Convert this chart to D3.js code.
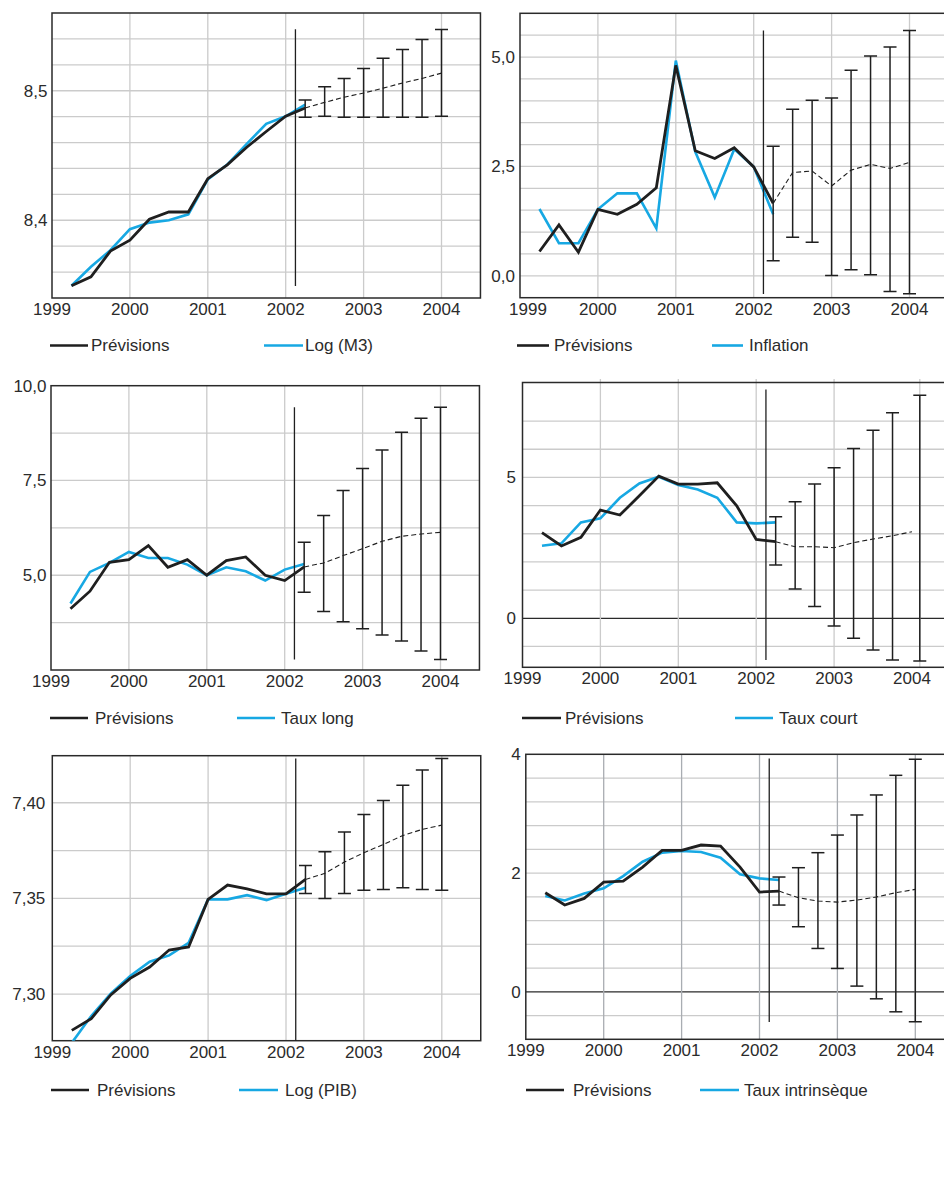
<!DOCTYPE html>
<html lang="fr">
<head>
<meta charset="utf-8">
<script src="https://cdn.jsdelivr.net/npm/d3@7"></script>
<style>
  html, body { margin: 0; padding: 0; background: #fff; }
  svg { display: block; }
  text { font-family: "Liberation Sans", Arial, Helvetica, sans-serif; fill: #2b2b2b; }
</style>
</head>
<body>
<svg id="chart" width="944" height="1201"></svg>
<script>
// ---- Periods ----------------------------------------------------------
const xTickYears = [1999, 2000, 2001, 2002, 2003, 2004];
const xTickLabels = ["1999", "2000", "2001", "2002", "2003", "2004"];
const quarters = [1999.25, 1999.5, 1999.75, 2000, 2000.25, 2000.5, 2000.75,
                  2001, 2001.25, 2001.5, 2001.75, 2002, 2002.25];
const forecastQuarters = [2002.25, 2002.5, 2002.75, 2003, 2003.25, 2003.5, 2003.75, 2004];
const forecastQuartersTauxCourt = [2002.25, 2002.5, 2002.75, 2003, 2003.25, 2003.5, 2003.75, 2004.1];
const splitDate = 2002.125;

// ---- Log (M3) ---------------------------------------------------------
const m3Fitted   = [8.3495, 8.3564, 8.3762, 8.3846, 8.4008, 8.4064, 8.4064, 8.4321, 8.4428, 8.4564, 8.4685, 8.4803, 8.4867];
const m3Actual   = [8.3495, 8.3641, 8.3769, 8.3931, 8.3982, 8.4000, 8.4046, 8.4315, 8.4430, 8.4590, 8.4744, 8.4803, 8.4892];
const m3Forecast = [8.4867, 8.4910, 8.4950, 8.4982, 8.5020, 8.5060, 8.5095, 8.5136];
const m3Upper    = [8.4928, 8.5031, 8.5095, 8.5172, 8.5251, 8.5318, 8.5395, 8.5472];
const m3Lower    = [8.4795, 8.4803, 8.4795, 8.4795, 8.4795, 8.4795, 8.4795, 8.4803];
const m3Split    = [8.3492, 8.5474];
const m3Ticks    = [8.4, 8.5];

// ---- Inflation --------------------------------------------------------
const inflFitted   = [0.555, 1.163, 0.540, 1.520, 1.406, 1.634, 2.014, 4.810, 2.857, 2.682, 2.926, 2.490, 1.657];
const inflActual   = [1.527, 0.745, 0.745, 1.520, 1.885, 1.885, 1.087, 4.920, 2.834, 1.793, 2.895, 2.490, 1.406];
const inflForecast = [1.657, 2.363, 2.394, 2.052, 2.416, 2.546, 2.454, 2.591];
const inflUpper    = [2.963, 3.807, 4.012, 4.065, 4.696, 5.023, 5.228, 5.608];
const inflLower    = [0.342, 0.881, 0.767, 0.008, 0.137, 0.023, -0.357, -0.410];
const inflSplit    = [-0.418, 5.608];
const inflTicks    = [0, 2.5, 5];

// ---- Taux long --------------------------------------------------------
const longFitted   = [4.114, 4.579, 5.342, 5.412, 5.781, 5.210, 5.412, 5.000, 5.386, 5.482, 5.000, 4.860, 5.219];
const longActual   = [4.254, 5.088, 5.325, 5.614, 5.456, 5.456, 5.281, 5.000, 5.210, 5.105, 4.860, 5.149, 5.298];
const longForecast = [5.219, 5.325, 5.518, 5.702, 5.895, 6.026, 6.088, 6.132];
const longUpper    = [5.868, 6.579, 7.237, 7.816, 8.307, 8.772, 9.140, 9.430];
const longLower    = [4.553, 4.044, 3.772, 3.588, 3.421, 3.263, 3.000, 2.780];
const longSplit    = [2.78, 9.43];
const longTicks    = [5, 7.5, 10];

// ---- Taux court -------------------------------------------------------
const shortFitted   = [3.038, 2.565, 2.872, 3.842, 3.664, 4.350, 5.047, 4.764, 4.764, 4.811, 3.995, 2.801, 2.719];
const shortActual   = [2.577, 2.660, 3.404, 3.546, 4.279, 4.787, 5.024, 4.728, 4.574, 4.279, 3.404, 3.369, 3.404];
const shortForecast = [2.719, 2.541, 2.541, 2.506, 2.683, 2.813, 2.931, 3.073];
const shortUpper    = [3.605, 4.137, 4.764, 5.343, 6.028, 6.678, 7.293, 7.920];
const shortLower    = [1.891, 1.040, 0.414, -0.272, -0.709, -1.123, -1.478, -1.513];
const shortSplit    = [-1.478, 8.12];
const shortTicks    = [0, 5];

// ---- Log (PIB) --------------------------------------------------------
const pibFitted   = [7.2810, 7.2871, 7.2995, 7.3082, 7.3141, 7.3230, 7.3246, 7.3495, 7.3570, 7.3550, 7.3524, 7.3524, 7.3599];
const pibActual   = [7.2745, 7.2885, 7.3002, 7.3094, 7.3169, 7.3202, 7.3268, 7.3495, 7.3495, 7.3517, 7.3491, 7.3524, 7.3556];
const pibForecast = [7.3599, 7.3631, 7.3690, 7.3739, 7.3782, 7.3829, 7.3861, 7.3883];
const pibUpper    = [7.3672, 7.3744, 7.3847, 7.3939, 7.4012, 7.4091, 7.4171, 7.4231];
const pibLower    = [7.3526, 7.3500, 7.3526, 7.3542, 7.3547, 7.3556, 7.3547, 7.3542];
const pibSplit    = [7.2756, 7.4231];
const pibTicks    = [7.30, 7.35, 7.40];

// ---- Taux intrinsèque -------------------------------------------------
const natFitted   = [1.669, 1.461, 1.573, 1.848, 1.865, 2.101, 2.382, 2.382, 2.472, 2.455, 2.101, 1.680, 1.697];
const natActual   = [1.612, 1.539, 1.657, 1.742, 1.949, 2.191, 2.343, 2.371, 2.354, 2.258, 1.978, 1.910, 1.882];
const natForecast = [1.697, 1.584, 1.528, 1.511, 1.545, 1.596, 1.669, 1.725];
const natUpper    = [1.933, 2.090, 2.343, 2.640, 2.978, 3.315, 3.646, 3.916];
const natLower    = [1.461, 1.096, 0.730, 0.393, 0.096, -0.118, -0.337, -0.506];
const natSplit    = [-0.51, 3.93];
const natTicks    = [0, 2, 4];

const legendFitted = "Prévisions";

// ---- Styles -----------------------------------------------------------
const BLACK = "#1f1f1f";
const BLUE = "#17a8e3";
const GRID = "#cbcbcb";
const FRAME = "#2a2a2a";

const fr = d3.formatLocale({ decimal: ",", thousands: " ", grouping: [3], currency: ["", " €"] });

// Panel layout: pixel box, value domain, grid step and legend placement
const panels = [
  { left: 52, top: 13, bottom: 298, yDomain: [8.34, 8.56], gridStep: 0.02, fmt: ".1f",
    ticks: m3Ticks, fitted: m3Fitted, actual: m3Actual, forecast: m3Forecast,
    upper: m3Upper, lower: m3Lower, split: m3Split, fq: forecastQuarters,
    label: "Log (M3)", zeroDark: false, labelGap: 4.5,
    legend: { y: 345.5, b1: 50, b2: 88, t1: 91, c1: 264, c2: 303, t2: 305 } },
  { left: 520, top: 13.3, bottom: 297.7, yDomain: [-0.5, 6.0], gridStep: 0.5, fmt: ".1f",
    ticks: inflTicks, fitted: inflFitted, actual: inflActual, forecast: inflForecast,
    upper: inflUpper, lower: inflLower, split: inflSplit, fq: forecastQuarters,
    label: "Inflation", zeroDark: false, labelGap: 5, firstLabelDx: 8,
    legend: { y: 345.5, b1: 517, b2: 549, t1: 554, c1: 712, c2: 743, t2: 749 } },
  { left: 51, top: 385.7, bottom: 670, yDomain: [2.5, 10], gridStep: 1.25, fmt: ".1f",
    ticks: longTicks, fitted: longFitted, actual: longActual, forecast: longForecast,
    upper: longUpper, lower: longLower, split: longSplit, fq: forecastQuarters,
    label: "Taux long", zeroDark: false, labelGap: 4.5,
    legend: { y: 718, b1: 50, b2: 88, t1: 95, c1: 237, c2: 275, t2: 281 } },
  { left: 522.5, top: 382.5, bottom: 667.3, yDomain: [-1.74, 8.37], gridStep: 1, fmt: "d",
    ticks: shortTicks, fitted: shortFitted, actual: shortActual, forecast: shortForecast,
    upper: shortUpper, lower: shortLower, split: shortSplit, fq: forecastQuartersTauxCourt,
    label: "Taux court", zeroDark: true, labelGap: 6.5, gridYears: [2000, 2001, 2002, 2003, 2004.1],
    gridOvershoot: 3.5, gridMax: 7,
    legend: { y: 718, b1: 522, b2: 561, t1: 565, c1: 735, c2: 773, t2: 779 } },
  { left: 52.3, top: 755.7, bottom: 1040.7, yDomain: [7.2756, 7.4246], gridStep: 0.025, fmt: ".2f",
    ticks: pibTicks, fitted: pibFitted, actual: pibActual, forecast: pibForecast,
    upper: pibUpper, lower: pibLower, split: pibSplit, fq: forecastQuarters,
    label: "Log (PIB)", zeroDark: false, labelGap: 7,
    legend: { y: 1090, b1: 51, b2: 89, t1: 97, c1: 239, c2: 278, t2: 285 } },
  { left: 525.8, top: 754.3, bottom: 1039.3, yDomain: [-0.8, 4.0], gridStep: 0.4, fmt: "d",
    ticks: natTicks, fitted: natFitted, actual: natActual, forecast: natForecast,
    upper: natUpper, lower: natLower, split: natSplit, fq: forecastQuarters,
    label: "Taux intrinsèque", zeroDark: true, labelGap: 5, vGrid: "#a9adb2",
    legend: { y: 1090, b1: 526, b2: 564, t1: 573, c1: 700, c2: 739, t2: 744 } }
];

const YEAR_PX = 77.9;
const svg = d3.select("#chart");
svg.append("rect").attr("width", 944).attr("height", 1201).attr("fill", "#fff");

panels.forEach((p, i) => {
  const right = p.left + 5.5 * YEAR_PX;
  const x = d3.scaleLinear().domain([1999, 2004.5]).range([p.left, right]);
  const y = d3.scaleLinear().domain(p.yDomain).range([p.bottom, p.top]);
  const g = svg.append("g");

  const clipId = "clip" + i;
  svg.append("clipPath").attr("id", clipId)
    .append("rect").attr("x", p.left).attr("y", p.top)
    .attr("width", right - p.left).attr("height", p.bottom - p.top);

  // horizontal grid
  const [y0, y1] = p.yDomain;
  const first = Math.ceil((y0 + 1e-9) / p.gridStep) * p.gridStep;
  const hLines = d3.range(first, y1 - 1e-6, p.gridStep)
    .map(v => +v.toFixed(6))
    .filter(v => v > y0 + 1e-6 && (p.gridMax === undefined || v <= p.gridMax + 1e-6));
  g.selectAll(".hgrid").data(hLines).join("line")
    .attr("x1", p.left).attr("x2", right)
    .attr("y1", d => y(d)).attr("y2", d => y(d))
    .attr("stroke", d => (p.zeroDark && Math.abs(d) < 1e-6) ? FRAME : GRID)
    .attr("stroke-width", d => (p.zeroDark && Math.abs(d) < 1e-6) ? 1.3 : 1.3);

  // vertical grid
  const vYears = p.gridYears || [2000, 2001, 2002, 2003, 2004];
  g.selectAll(".vgrid").data(vYears).join("line")
    .attr("x1", d => x(d)).attr("x2", d => x(d))
    .attr("y1", p.top - (p.gridOvershoot || 0)).attr("y2", p.bottom)
    .attr("stroke", p.vGrid || GRID).attr("stroke-width", 1.3);

  // frame
  g.append("rect")
    .attr("x", p.left).attr("y", p.top)
    .attr("width", right - p.left).attr("height", p.bottom - p.top)
    .attr("fill", "none").attr("stroke", FRAME).attr("stroke-width", 1.5);

  // y tick labels
  const f = fr.format(p.fmt);
  g.selectAll(".ylab").data(p.ticks).join("text")
    .attr("x", p.left - p.labelGap).attr("y", d => y(d))
    .attr("dy", "0.35em").attr("text-anchor", "end")
    .attr("font-size", 17).text(d => f(d));

  // x tick labels
  g.selectAll(".xlab").data(xTickYears).join("text")
    .attr("x", (d, k) => x(d) + (k === 0 && p.firstLabelDx ? p.firstLabelDx : 0))
    .attr("y", p.bottom + 17).attr("text-anchor", "middle")
    .attr("font-size", 17).text((d, k) => xTickLabels[k]);

  const plot = g.append("g").attr("clip-path", `url(#${clipId})`);
  const line = d3.line().x(d => x(d[0])).y(d => y(d[1]));

  // observed series
  plot.append("path").datum(quarters.map((q, k) => [q, p.actual[k]]))
    .attr("d", line).attr("fill", "none").attr("stroke", BLUE).attr("stroke-width", 2.6);

  // model fit
  plot.append("path").datum(quarters.map((q, k) => [q, p.fitted[k]]))
    .attr("d", line).attr("fill", "none").attr("stroke", BLACK).attr("stroke-width", 2.8);

  // forecast (dashed)
  plot.append("path").datum(forecastQuarters.map((q, k) => [q, p.forecast[k]]))
    .attr("d", line).attr("fill", "none").attr("stroke", BLACK)
    .attr("stroke-width", 1.1).attr("stroke-dasharray", "5,3");

  // start of the forecast horizon
  plot.append("line")
    .attr("x1", x(splitDate)).attr("x2", x(splitDate))
    .attr("y1", y(p.split[0])).attr("y2", y(p.split[1]))
    .attr("stroke", BLACK).attr("stroke-width", 1.3);

  // confidence intervals
  const bars = plot.selectAll(".eb").data(p.fq.map((q, k) => ({ q, hi: p.upper[k], lo: p.lower[k] })))
    .join("g").attr("stroke", BLACK).attr("stroke-width", 1.5);
  bars.append("line").attr("x1", d => x(d.q)).attr("x2", d => x(d.q))
    .attr("y1", d => y(d.hi)).attr("y2", d => y(d.lo));
  bars.append("line").attr("x1", d => x(d.q) - 6.5).attr("x2", d => x(d.q) + 6.5)
    .attr("y1", d => y(d.hi)).attr("y2", d => y(d.hi));
  bars.append("line").attr("x1", d => x(d.q) - 6.5).attr("x2", d => x(d.q) + 6.5)
    .attr("y1", d => y(d.lo)).attr("y2", d => y(d.lo));

  // legend
  const L = p.legend;
  const lg = svg.append("g");
  lg.append("line").attr("x1", L.b1).attr("x2", L.b2).attr("y1", L.y).attr("y2", L.y)
    .attr("stroke", BLACK).attr("stroke-width", 2.6);
  lg.append("text").attr("x", L.t1).attr("y", L.y).attr("dy", "0.35em")
    .attr("font-size", 17).text(legendFitted);
  lg.append("line").attr("x1", L.c1).attr("x2", L.c2).attr("y1", L.y).attr("y2", L.y)
    .attr("stroke", BLUE).attr("stroke-width", 2.6);
  lg.append("text").attr("x", L.t2).attr("y", L.y).attr("dy", "0.35em")
    .attr("font-size", 17).text(p.label);
});
</script>
</body>
</html>
